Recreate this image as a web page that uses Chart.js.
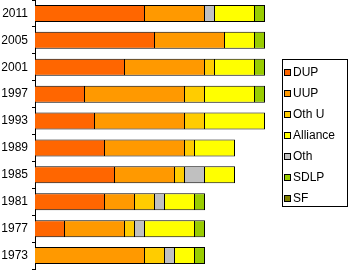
<!DOCTYPE html>
<html>
<head>
<meta charset="utf-8">
<script src="https://cdn.jsdelivr.net/npm/chart.js@4/dist/chart.umd.min.js"></script>
<style>
  html, body { margin: 0; padding: 0; background: #fff; }
  #wrap { width: 348px; height: 271px; position: relative; }
</style>
</head>
<body>
<div id="wrap"><canvas id="seatsChart"></canvas></div>
<script>
// Election years (top to bottom)
const years = ['2011', '2005', '2001', '1997', '1993', '1989', '1985', '1981', '1977', '1973'];

// Seats per party, same order as years
const dup      = [11, 12, 9, 5, 6, 7, 8, 7, 3, 0];
const uup      = [6, 7, 8, 10, 9, 8, 6, 3, 6, 11];
const othU     = [0, 0, 1, 2, 2, 1, 1, 2, 1, 2];
const alliance = [4, 3, 4, 5, 6, 4, 3, 3, 5, 2];
const oth      = [1, 0, 0, 0, 0, 0, 2, 1, 1, 1];
const sdlp     = [1, 1, 1, 1, 0, 0, 0, 1, 1, 1];
const sf       = [0, 0, 0, 0, 0, 0, 0, 0, 0, 0];

// legend order differs from stacking order (Oth sits before Alliance in the bars)
const legendOrder = ['DUP', 'UUP', 'Oth U', 'Alliance', 'Oth', 'SDLP', 'SF'];

const parties = [
    { label: 'DUP', data: dup, color: '#FF6600' },
    { label: 'UUP', data: uup, color: '#FF9900' },
    { label: 'Oth U', data: othU, color: '#FFCC00' },
    { label: 'Oth', data: oth, color: '#C0C0C0' },
    { label: 'Alliance', data: alliance, color: '#FFFF00' },
    { label: 'SDLP', data: sdlp, color: '#99CC00' },
    { label: 'SF', data: sf, color: '#808000' }
];

const FONT = '12px "Liberation Sans", Arial, sans-serif';

// Boxed legend on the right, drawn on the canvas
const boxLegend = {
    id: 'boxLegend',
    afterDraw(chart) {
        const ctx = chart.ctx;
        ctx.save();
        ctx.lineWidth = 1;
        ctx.strokeStyle = '#000';
        ctx.strokeRect(282.5, 59.5, 65, 147);
        ctx.font = FONT;
        ctx.textBaseline = 'alphabetic';
        ctx.textAlign = 'left';
        legendOrder.forEach((name, i) => {
            const ds = chart.data.datasets.find(d => d.label === name);
            const top = 69 + i * 21;
            ctx.fillStyle = ds.backgroundColor;
            ctx.fillRect(284.5, top + 0.5, 6, 6);
            ctx.strokeRect(284.5, top + 0.5, 6, 6);
            ctx.fillStyle = '#000';
            ctx.fillText(name, 293, top + 7);
        });
        ctx.restore();
    }
};

new Chart(document.getElementById('seatsChart'), {
    type: 'bar',
    data: {
        labels: years,
        datasets: parties.map(p => ({
            label: p.label,
            data: p.data,
            backgroundColor: p.color,
            borderColor: '#000',
            borderWidth: 1,
            inflateAmount: 0,
            barPercentage: 0.632,
            categoryPercentage: 1
        }))
    },
    options: {
        indexAxis: 'y',
        responsive: true,
        maintainAspectRatio: false,
        animation: false,
        layout: { padding: { top: 0, bottom: 2, left: 0, right: 73 } },
        plugins: {
            legend: { display: false },
            tooltip: { enabled: false }
        },
        scales: {
            x: {
                stacked: true,
                display: false,
                min: 0,
                max: 24
            },
            y: {
                stacked: true,
                afterFit(scale) {
                    scale.width = 35;
                    scale.paddingTop = 0;
                    scale.paddingBottom = 0;
                },
                grid: {
                    drawOnChartArea: false,
                    drawTicks: true,
                    tickLength: 3,
                    color: '#000'
                },
                border: { display: true, color: '#000', width: 1 },
                ticks: {
                    color: '#000',
                    padding: 4,
                    font: { family: '"Liberation Sans", Arial, sans-serif', size: 12 }
                }
            }
        }
    },
    plugins: [boxLegend]
});
</script>
</body>
</html>
